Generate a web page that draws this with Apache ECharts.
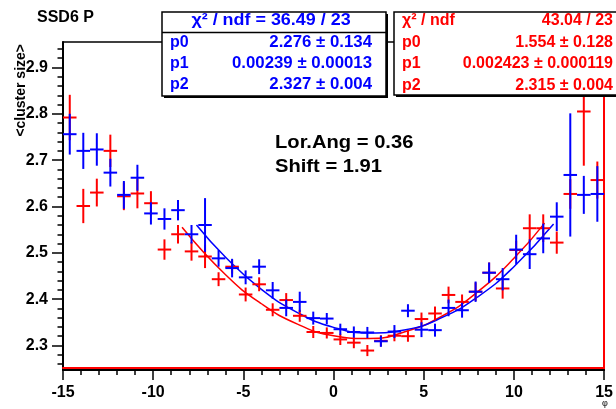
<!DOCTYPE html>
<html><head><meta charset="utf-8">
<script src="https://cdn.jsdelivr.net/npm/echarts@6/dist/echarts.min.js"></script>
<style>html,body{margin:0;padding:0;background:#fff}#c{width:616px;height:409px}</style>
</head><body><div id="c"></div>
<script>
// ---- data ----
const binCenters = [-14.625,-13.875,-13.125,-12.375,-11.625,-10.875,-10.125,-9.375,-8.625,-7.875,
  -7.125,-6.375,-5.625,-4.875,-4.125,-3.375,-2.625,-1.875,-1.125,-0.375,
  0.375,1.125,1.875,2.625,3.375,4.125,4.875,5.625,6.375,7.125,
  7.875,8.625,9.375,10.125,10.875,11.625,12.375,13.125,13.875,14.625];
const binHalfWidth = 0.375;
const blueValues = [2.756,2.720,2.723,2.673,2.625,2.662,2.585,2.573,2.592,2.540,
  2.560,2.488,2.467,2.447,2.470,2.419,2.381,2.394,2.359,2.358,
  2.335,2.329,2.328,2.309,2.330,2.375,2.334,2.333,2.381,2.376,
  2.416,2.457,2.443,2.507,2.497,2.531,2.578,2.668,2.625,2.627];
const blueErrors = [0.044,0.039,0.035,0.030,0.030,0.028,0.024,0.023,0.022,0.020,
  0.058,0.018,0.020,0.015,0.016,0.018,0.018,0.022,0.014,0.012,
  0.012,0.012,0.012,0.012,0.014,0.014,0.016,0.014,0.018,0.016,
  0.022,0.022,0.024,0.032,0.032,0.032,0.031,0.133,0.041,0.060];
const redValues = [2.792,2.601,2.630,2.720,2.622,2.628,2.607,2.507,2.540,2.503,
  2.492,2.443,2.470,2.410,2.432,2.377,2.398,2.364,2.329,2.327,
  2.313,2.306,2.289,2.310,2.321,2.320,2.357,2.369,2.409,2.394,
  2.416,2.457,2.423,2.506,2.553,2.553,2.522,2.627,2.805,2.657];
const redErrors = [0.049,0.037,0.030,0.035,0.030,0.032,0.026,0.022,0.020,0.020,
  0.025,0.015,0.015,0.015,0.015,0.014,0.015,0.013,0.013,0.012,
  0.012,0.012,0.012,0.012,0.012,0.012,0.014,0.015,0.018,0.016,
  0.020,0.022,0.022,0.020,0.030,0.030,0.024,0.032,0.117,0.040];
const blueFitX = [-7.6,-6,-4,-2,0,2,4,6,8,10,12.2];
const blueFitY = [2.560,2.491,2.421,2.371,2.339,2.327,2.334,2.360,2.405,2.470,2.562];
const redFitX = [-8.4,-6,-4,-2,0,2,4,6,8,10,11.7];
const redFitY = [2.555,2.453,2.390,2.346,2.321,2.315,2.330,2.363,2.416,2.488,2.564];
const yTickLabels = [2.3,2.4,2.5,2.6,2.7,2.8,2.9];
const yMinorTicks = [2.26,2.28,2.32,2.34,2.36,2.38,2.42,2.44,2.46,2.48,2.52,2.54,2.56,2.58,
  2.62,2.64,2.66,2.68,2.72,2.74,2.76,2.78,2.82,2.84,2.86,2.88,2.92,2.94];
const blueStats = [['p0','2.276 \u00b1 0.134'],['p1','0.00239 \u00b1 0.00013'],['p2','2.327 \u00b1 0.004']];
const blueHeader = '\u03c7\u00b2 / ndf = 36.49 / 23';
const redStats = [['\u03c7\u00b2 / ndf','43.04 / 23'],['p0','1.554 \u00b1 0.128'],['p1','0.002423 \u00b1 0.000119'],['p2','2.315 \u00b1 0.004']];

// ---- chart ----
const FONT = "'Liberation Sans', Arial, Helvetica, sans-serif";
const BLUE = '#0000ff', RED = '#ff0000';
const Y_MIN = 2.247, Y_MAX = 2.955;

function crossRender(color){
  return function(params, api){
    const x = api.value(0), y = api.value(1), e = api.value(2);
    const l = api.coord([x - binHalfWidth, y]);
    const r = api.coord([x + binHalfWidth, y]);
    const t = api.coord([x, y + e]);
    const b = api.coord([x, y - e]);
    return {type:'group', children:[
      {type:'line', shape:{x1:l[0],y1:l[1],x2:r[0],y2:r[1]}, style:{stroke:color,lineWidth:2}},
      {type:'line', shape:{x1:t[0],y1:t[1],x2:b[0],y2:b[1]}, style:{stroke:color,lineWidth:2}}
    ]};
  };
}
const blueData = binCenters.map((x,i)=>[x, blueValues[i], blueErrors[i]]);
const redData = binCenters.map((x,i)=>[x, redValues[i], redErrors[i]]);

function txt(x,y,text,opt,scaleX){
  return {type:'text', x:x, y:y, z:100, scaleX:scaleX||1,
    style:Object.assign({text:text, font:'bold 16px '+FONT, fill:'#000', textVerticalAlign:'middle'}, opt||{})};
}
const graphics = [];
graphics.push(txt(37,18,'SSD6 P',{font:'bold 16px '+FONT}));
graphics.push({type:'text', x:21, y:44, rotation:Math.PI/2, z:100,
  style:{text:'<cluster size>', font:'bold 14px '+FONT, fill:'#000', textAlign:'right', textVerticalAlign:'middle'}});
graphics.push(txt(605,404,'\u03c6',{font:'9px '+FONT, textAlign:'center'}));
graphics.push(txt(275,143,'Lor.Ang = 0.36',{font:'bold 18px '+FONT},1.12));
graphics.push(txt(275,167,'Shift = 1.91',{font:'bold 18px '+FONT},1.12));
// blue stat box
graphics.push({type:'rect', z:98, shape:{x:164,y:14,width:224,height:84}, style:{fill:'#000'}});
graphics.push({type:'rect', z:99, shape:{x:162,y:12,width:224,height:84}, style:{fill:'#fff', stroke:'#000', lineWidth:1.5}});
graphics.push({type:'line', z:99, shape:{x1:162,y1:32.5,x2:386,y2:32.5}, style:{stroke:'#000', lineWidth:1.5}});
graphics.push(txt(271,21,blueHeader,{fill:BLUE, textAlign:'center'},1.12));
blueStats.forEach((r,i)=>{
  const y = 43 + i*21;
  graphics.push(txt(170,y,r[0],{fill:BLUE}));
  graphics.push(txt(372,y,r[1],{fill:BLUE, textAlign:'right'},1.05));
});
// red stat box
graphics.push({type:'rect', z:98, shape:{x:396,y:14,width:240,height:83}, style:{fill:'#000'}});
graphics.push({type:'rect', z:99, shape:{x:394,y:12,width:240,height:83}, style:{fill:'#fff', stroke:'#000', lineWidth:1.5}});
redStats.forEach((r,i)=>{
  const y = 21 + i*21.5;
  graphics.push(txt(402,y,r[0],{fill:RED}));
  graphics.push(txt(613,y,r[1],{fill:RED, textAlign:'right'}));
});

const chart = echarts.init(document.getElementById('c'));
chart.setOption({
  animation:false,
  backgroundColor:'#fff',
  grid:{left:63, right:6, top:42, bottom:39, containLabel:false},
  xAxis:[{
    type:'value', min:-15, max:15, interval:5, position:'bottom',
    axisLine:{show:true, onZero:false, lineStyle:{color:'#000', width:2}},
    axisTick:{show:true, inside:false, length:10, lineStyle:{color:'#000', width:1.5}},
    minorTick:{show:true, splitNumber:5, length:5, lineStyle:{color:'#000', width:1.5}},
    axisLabel:{margin:15, fontSize:16, fontWeight:'bold', fontFamily:FONT, color:'#000'},
    splitLine:{show:false}
  },{
    type:'value', min:-15, max:15, position:'top',
    axisLine:{show:true, onZero:false, lineStyle:{color:'#000', width:1.5}},
    axisTick:{show:false}, axisLabel:{show:false}, splitLine:{show:false}
  },{
    type:'value', min:-15, max:15, position:'bottom', offset:-2,
    axisLine:{show:true, onZero:false, lineStyle:{color:RED, width:2}},
    axisTick:{show:false}, axisLabel:{show:false}, splitLine:{show:false}
  }],
  yAxis:[{
    type:'value', min:Y_MIN, max:Y_MAX, position:'left',
    axisLine:{show:true, onZero:false, lineStyle:{color:'#000', width:2}},
    axisTick:{show:true, inside:false, length:11, customValues:yTickLabels, lineStyle:{color:'#000', width:1.5}},
    axisLabel:{customValues:yTickLabels, margin:15, fontSize:16, fontWeight:'bold', fontFamily:FONT, color:'#000',
      formatter:(v)=>Number(v).toFixed(1)},
    splitLine:{show:false}
  },{
    type:'value', min:Y_MIN, max:Y_MAX, position:'left',
    axisLine:{show:false, onZero:false},
    axisTick:{show:true, inside:false, length:5.5, customValues:yMinorTicks, lineStyle:{color:'#000', width:1.5}},
    axisLabel:{show:false}, splitLine:{show:false}
  },{
    type:'value', min:Y_MIN, max:Y_MAX, position:'right',
    axisLine:{show:true, onZero:false, lineStyle:{color:RED, width:2}},
    axisTick:{show:false}, axisLabel:{show:false}, splitLine:{show:false}
  }],
  series:[
    {type:'line', xAxisIndex:0, yAxisIndex:0, data:redFitX.map((x,i)=>[x, redFitY[i]]), smooth:true,
      showSymbol:false, lineStyle:{color:RED, width:1.5}, z:3, silent:true},
    {type:'line', xAxisIndex:0, yAxisIndex:0, data:blueFitX.map((x,i)=>[x, blueFitY[i]]), smooth:true,
      showSymbol:false, lineStyle:{color:BLUE, width:1.5}, z:3, silent:true},
    {type:'custom', xAxisIndex:0, yAxisIndex:0, data:redData, renderItem:crossRender(RED), z:4, silent:true},
    {type:'custom', xAxisIndex:0, yAxisIndex:0, data:blueData, renderItem:crossRender(BLUE), z:5, silent:true}
  ],
  graphic:graphics
});
</script></body></html>
